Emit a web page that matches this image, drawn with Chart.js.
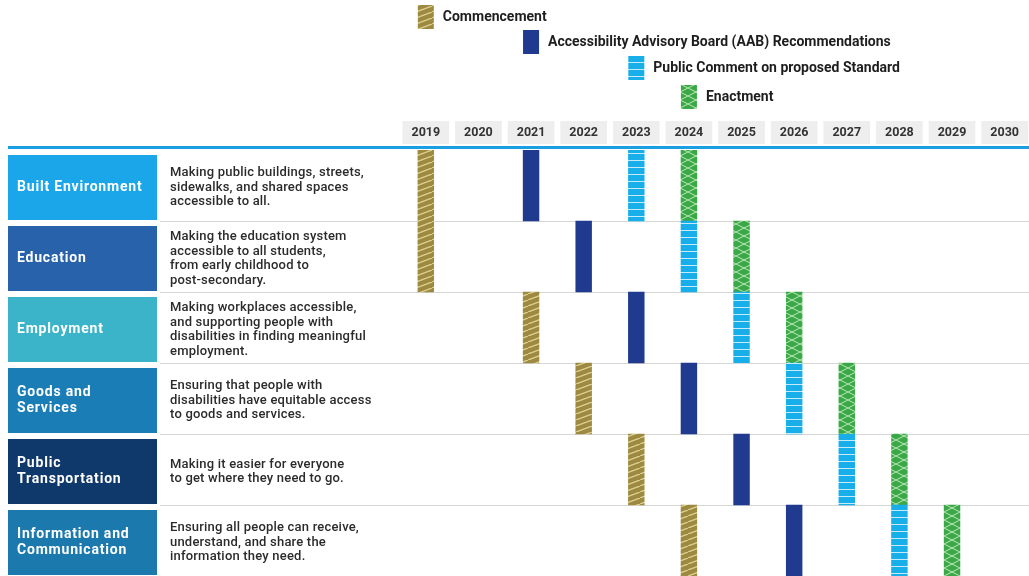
<!DOCTYPE html>
<html>
<head>
<meta charset="utf-8">
<script src="https://cdn.jsdelivr.net/npm/chart.js@4.4.1/dist/chart.umd.min.js"></script>
<style>
  html, body { margin:0; padding:0; background:#fff; }
  canvas { display:block; }
</style>
</head>
<body>
<canvas id="timeline" width="1029" height="576"></canvas>
<script>
  // ── DATA ───────────────────────────────────────────────────────────────────
  const areas = ['Built Environment', 'Education', 'Employment', 'Goods and Services', 'Public Transportation', 'Information and Communication'];
  const areaLines = [['Built Environment'], ['Education'], ['Employment'], ['Goods and', 'Services'], ['Public', 'Transportation'], ['Information and', 'Communication']];
  const descriptions = [
    ['Making public buildings, streets,', 'sidewalks, and shared spaces', 'accessible to all.'],
    ['Making the education system', 'accessible to all students,', 'from early childhood to', 'post-secondary.'],
    ['Making workplaces accessible,', 'and supporting people with', 'disabilities in finding meaningful', 'employment.'],
    ['Ensuring that people with', 'disabilities have equitable access', 'to goods and services.'],
    ['Making it easier for everyone', 'to get where they need to go.'],
    ['Ensuring all people can receive,', 'understand, and share the', 'information they need.'],
  ];
  const years = [2019, 2020, 2021, 2022, 2023, 2024, 2025, 2026, 2027, 2028, 2029, 2030];

  // milestone year per area
  const commencement  = [2019, 2019, 2021, 2022, 2023, 2024];
  const aab           = [2021, 2022, 2023, 2024, 2025, 2026];
  const publicComment = [2023, 2024, 2025, 2026, 2027, 2028];
  const enactment     = [2024, 2025, 2026, 2027, 2028, 2029];

  const milestones = ['Commencement', 'Accessibility Advisory Board (AAB) Recommendations', 'Public Comment on proposed Standard', 'Enactment'];
  const legendYears = [2019, 2021, 2023, 2024];

  // ── STYLE ──────────────────────────────────────────────────────────────────
  const areaColors = ['#1ba6e9', '#2862aa', '#3bb3c9', '#1a7db5', '#10396b', '#1b79ae'];
  const BAR_HALF = 0.15;   // half bar width in years

  function makePattern(kind) {
    const c = document.createElement('canvas');
    const g = c.getContext('2d');
    if (kind === 'commence') {
      c.width = 16; c.height = 6;
      g.fillStyle = '#9d8a40'; g.fillRect(0,0,16,6);
      g.strokeStyle = 'rgba(230,220,160,0.85)'; g.lineWidth = 1.3;
      g.beginPath(); g.moveTo(0,6); g.lineTo(16,0); g.moveTo(-16,6); g.lineTo(0,0); g.moveTo(16,6); g.lineTo(32,0); g.stroke();
    } else if (kind === 'comment') {
      c.width = 16; c.height = 7;
      g.fillStyle = '#18aeea'; g.fillRect(0,0,16,7);
      g.fillStyle = 'rgba(255,255,255,0.75)'; g.fillRect(0,6,16,1);
    } else {
      c.width = 16; c.height = 8;
      g.fillStyle = '#3aa847'; g.fillRect(0,0,16,8);
      g.strokeStyle = 'rgba(220,245,210,0.8)'; g.lineWidth = 1;
      g.beginPath(); g.moveTo(0,0); g.lineTo(16,8); g.moveTo(0,8); g.lineTo(16,0); g.stroke();
    }
    return g.createPattern(c, 'repeat');
  }
  const fills = [makePattern('commence'), '#1f3a8e', makePattern('comment'), makePattern('enact')];

  const span = arr => arr.map(y => [y - BAR_HALF, y + BAR_HALF]);

  // ── PLUGIN: left table, separators, legend, top rule ──────────────────────
  const tablePlugin = {
    id: 'tablePlugin',
    beforeDatasetsDraw(chart) {
      const { ctx, scales:{ y } } = chart;
      const rowH = y.getPixelForValue(1) - y.getPixelForValue(0);
      ctx.save();
      ctx.strokeStyle = '#d6d6d6'; ctx.lineWidth = 1;
      for (let i = 1; i < areas.length; i++) {
        const yy = Math.round(y.getPixelForValue(i) - rowH/2) + 0.5;
        ctx.beginPath(); ctx.moveTo(160, yy); ctx.lineTo(chart.width, yy); ctx.stroke();
      }
      ctx.restore();
    },
    afterDraw(chart) {
      const { ctx, scales:{ x, y }, chartArea } = chart;
      const rowH = y.getPixelForValue(1) - y.getPixelForValue(0);
      ctx.save();

      // top rule
      ctx.strokeStyle = '#1a9fe2'; ctx.lineWidth = 3;
      ctx.beginPath(); ctx.moveTo(8, chartArea.top - 2.5); ctx.lineTo(chart.width, chartArea.top - 2.5); ctx.stroke();

      areas.forEach((a, i) => {
        const cy = y.getPixelForValue(i);
        const top = cy - rowH/2 + 5, bot = cy + rowH/2 - 1;
        ctx.fillStyle = areaColors[i];
        ctx.fillRect(8, top, 149, bot - top);

        ctx.fillStyle = '#ffffff';
        ctx.font = 'bold 14px Roboto';
        ctx.letterSpacing = '0.8px';
        ctx.textBaseline = 'middle'; ctx.textAlign = 'left';
        const lines = areaLines[i], lh = 16;
        const mid = (top + bot) / 2;
        lines.forEach((t, k) => ctx.fillText(t, 17, mid + (k - (lines.length-1)/2) * lh));

        ctx.fillStyle = '#2b2b2b';
        ctx.font = '500 13px Roboto';
        ctx.letterSpacing = '0.2px';
        const d = descriptions[i], dh = 14.5;
        d.forEach((t, k) => ctx.fillText(t, 170, mid + (k - (d.length-1)/2) * dh));
      });

      // legend
      const legTop = [5, 30, 56, 85];
      ctx.letterSpacing = '0px';
      milestones.forEach((m, i) => {
        const px = x.getPixelForValue(legendYears[i]);
        ctx.fillStyle = fills[i];
        ctx.fillRect(px - 8, legTop[i], 16, 24);
        ctx.fillStyle = '#1e1e1e';
        ctx.font = 'bold 14px Roboto';
        ctx.fillText(m, px + 17, legTop[i] + 12);
      });
      ctx.restore();
    }
  };

  // ── CHART ──────────────────────────────────────────────────────────────────
  new Chart(document.getElementById('timeline').getContext('2d'), {
    type: 'bar',
    data: {
      labels: areas,
      datasets: [commencement, aab, publicComment, enactment].map((arr, i) => ({
        label: milestones[i],
        data: span(arr),
        backgroundColor: fills[i],
        borderWidth: 0,
        borderSkipped: false,
        grouped: false,
        barPercentage: 1,
        categoryPercentage: 1,
      }))
    },
    options: {
      responsive: false,
      animation: false,
      indexAxis: 'y',
      layout: { padding: { left: 399.5, top: 110, right: 0, bottom: 0 } },
      plugins: { legend:{ display:false }, tooltip:{ enabled:false } },
      scales: {
        x: {
          type: 'linear', position: 'top', min: 2018.5, max: 2030.4,
          afterBuildTicks: s => { s.ticks = years.map(v => ({ value: v })); },
          afterFit: s => { s.height = 40; },
          grid: { display:false, drawTicks:false },
          border: { display:false },
          ticks: {
            autoSkip: false, maxRotation: 0, padding: 10,
            callback: v => String(v),
            font: { family:'Roboto', size:12.5, weight:'bold' }, color:'#333',
            showLabelBackdrop: true, backdropColor: '#eeeeee', backdropPadding: { x: 9, y: 4 },
          }
        },
        y: { display: false }
      }
    },
    plugins: [tablePlugin]
  });
</script>
</body>
</html>
